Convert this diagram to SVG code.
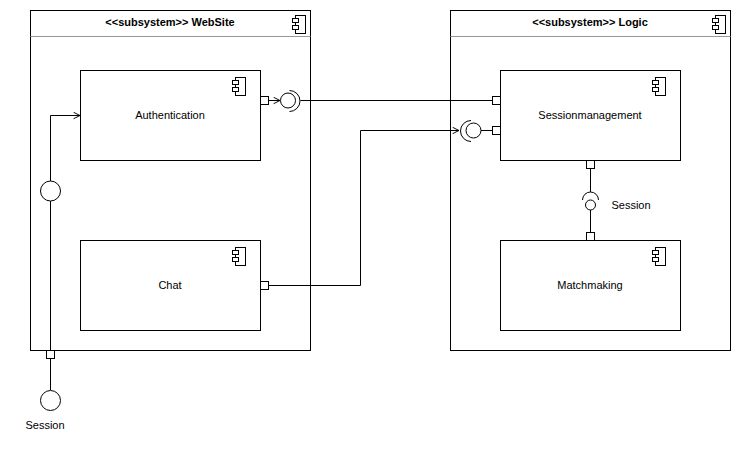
<svg xmlns="http://www.w3.org/2000/svg" width="741" height="452" viewBox="0 0 741 452">
<style>
.box{fill:#fff;stroke:#000;stroke-width:1}
.sep{stroke:#999;stroke-width:1}
.ln{fill:none;stroke:#000;stroke-width:1}
.port{fill:#fff;stroke:#000;stroke-width:1}
.t{font-family:"Liberation Sans",Arial,sans-serif;font-size:11px;fill:#000;text-anchor:middle}
.tb{font-weight:bold}
</style>
<defs>
<marker id="open" viewBox="0 0 10 10" refX="9" refY="5" markerWidth="8" markerHeight="8" markerUnits="userSpaceOnUse" orient="auto">
<path d="M1,1 L9,5 L1,9" fill="none" stroke="#000" stroke-width="1.2"/>
</marker>
<g id="cicon">
<rect x="0" y="0" width="10" height="18" fill="#fff" stroke="#000"/>
<rect x="-3" y="3" width="6" height="4" fill="#fff" stroke="#000"/>
<rect x="-3" y="10" width="6" height="4" fill="#fff" stroke="#000"/>
</g>
</defs>
<rect width="741" height="452" fill="#fff"/>

<g id="websiteSubsystem">
<rect class="box" x="30.5" y="10.5" width="280" height="340"/>
<line class="sep" x1="30.5" y1="36.5" x2="310.5" y2="36.5"/>
<text class="t tb" x="170" y="26">&lt;&lt;subsystem&gt;&gt; WebSite</text>
<use href="#cicon" x="295.5" y="15.5"/>
</g>

<g id="logicSubsystem">
<rect class="box" x="450.5" y="10.5" width="280" height="340"/>
<line class="sep" x1="450.5" y1="36.5" x2="730.5" y2="36.5"/>
<text class="t tb" x="590" y="26">&lt;&lt;subsystem&gt;&gt; Logic</text>
<use href="#cicon" x="715.5" y="15.5"/>
</g>

<g id="authentication">
<rect class="box" x="80.5" y="70.5" width="180" height="90"/>
<use href="#cicon" x="235.5" y="77.5"/>
<text class="t" x="170" y="119">Authentication</text>
</g>

<g id="chat">
<rect class="box" x="80.5" y="240.5" width="180" height="90"/>
<use href="#cicon" x="235.5" y="247.5"/>
<text class="t" x="170" y="289">Chat</text>
</g>

<g id="sessionmanagement">
<rect class="box" x="500.5" y="70.5" width="180" height="90"/>
<use href="#cicon" x="655.5" y="77.5"/>
<text class="t" x="590" y="119">Sessionmanagement</text>
</g>

<g id="matchmaking">
<rect class="box" x="500.5" y="240.5" width="180" height="90"/>
<use href="#cicon" x="655.5" y="247.5"/>
<text class="t" x="590" y="289">Matchmaking</text>
</g>

<g id="connectors">
<!-- Authentication required -> Sessionmanagement provided -->
<line class="ln" x1="268" y1="100.5" x2="280" y2="100.5" marker-end="url(#open)"/>
<circle class="ln" cx="288" cy="100.5" r="7.5"/>
<path class="ln" d="M289.5,90.5 A10.5,10.5 0 0 1 289.5,111.5"/>
<line class="ln" x1="300.5" y1="100.5" x2="492" y2="100.5"/>

<!-- Chat -> Sessionmanagement -->
<path class="ln" d="M268,285.5 H360.5 V130.5 H459" marker-end="url(#open)"/>
<path class="ln" d="M471,120.5 A10.5,10.5 0 0 0 471,141.5"/>
<circle class="ln" cx="473.5" cy="130.5" r="7.5"/>
<line class="ln" x1="481" y1="130.5" x2="492" y2="130.5"/>

<!-- Sessionmanagement -> Matchmaking -->
<line class="ln" x1="590.5" y1="168" x2="590.5" y2="192"/>
<path class="ln" d="M582.5,200 A8,8 0 0 1 598.5,200"/>
<circle class="ln" cx="590.5" cy="205" r="5"/>
<line class="ln" x1="590.5" y1="210" x2="590.5" y2="232"/>
<text class="t" x="631" y="209">Session</text>

<!-- Session port to Authentication -->
<path class="ln" d="M50.5,350 V201" />
<circle class="ln" cx="50.5" cy="191" r="10"/>
<path class="ln" d="M50.5,181 V115.5 H80" marker-end="url(#open)"/>
<line class="ln" x1="50.5" y1="358" x2="50.5" y2="390"/>
<circle class="ln" cx="50.5" cy="400.5" r="10"/>
<text class="t" x="45" y="429">Session</text>

<!-- ports -->
<rect class="port" x="260.5" y="96.5" width="8" height="8"/>
<rect class="port" x="260.5" y="281.5" width="8" height="8"/>
<rect class="port" x="492.5" y="96.5" width="8" height="8"/>
<rect class="port" x="492.5" y="126.5" width="8" height="8"/>
<rect class="port" x="586.5" y="160.5" width="8" height="8"/>
<rect class="port" x="586.5" y="232.5" width="8" height="8"/>
<rect class="port" x="46.5" y="350.5" width="8" height="8"/>
</g>
</svg>
